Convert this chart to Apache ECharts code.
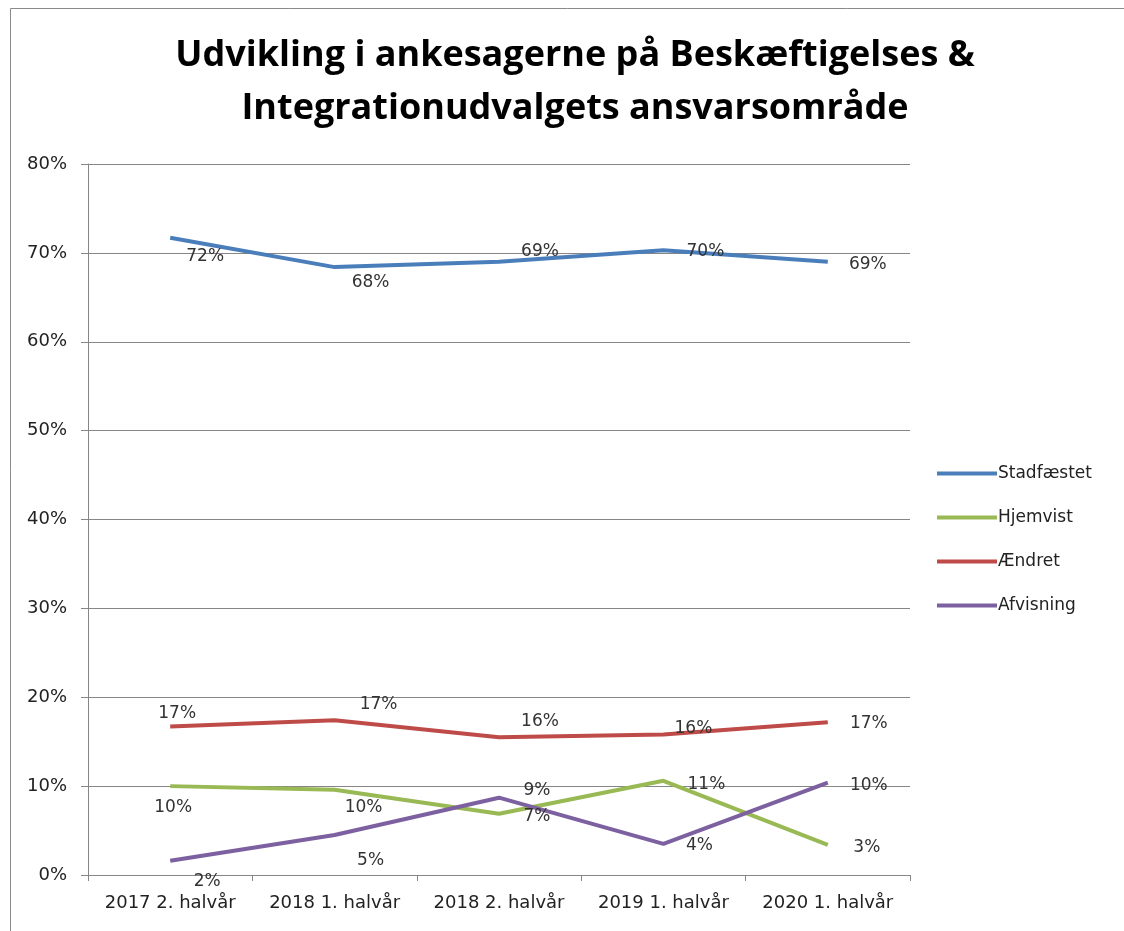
<!DOCTYPE html>
<html>
<head>
<meta charset="utf-8">
<script src="https://cdn.jsdelivr.net/npm/echarts@6/dist/echarts.min.js"></script>
<style>
  html, body { margin: 0; padding: 0; background: #fff; }
  #chart { width: 1124px; height: 931px; }
</style>
</head>
<body>
<div id="chart"></div>
<script>
// categories and values (percent)
var periods = ['2017 2. halvår', '2018 1. halvår', '2018 2. halvår', '2019 1. halvår', '2020 1. halvår'];
var stadfaestet = [71.7, 68.4, 69.0, 70.3, 69.0];
var hjemvist    = [10.0, 9.6, 6.9, 10.6, 3.4];
var aendret     = [16.7, 17.4, 15.5, 15.8, 17.2];
var afvisning   = [1.6, 4.5, 8.7, 3.5, 10.4];
var yTicks = [0, 10, 20, 30, 40, 50, 60, 70, 80];

// where Excel put each value label, relative to its point (layout only)
var labelShift = {
    'Stadfæstet': [[35, 19], [36, 15], [41, -10], [42, 1], [40, 3]],
    'Hjemvist':   [[3, 21], [29, 18], [38, 3], [43, 4], [39, 3]],
    'Ændret':     [[7, -13], [44, -16], [41, -16], [30, -6], [41, 1]],
    'Afvisning':  [[37, 21], [36, 26], [38, -7], [36, 2], [41, 3]]
};

var font = 'DejaVu Sans';

function serie(name, values, color) {
    return {
        name: name,
        type: 'line',
        data: values.map(function (v, i) {
            return {
                value: v,
                label: { position: labelShift[name][i] }
            };
        }),
        symbol: 'circle',
        symbolSize: 0,
        showSymbol: true,
        itemStyle: { color: color },
        lineStyle: { color: color, width: 4 },
        label: {
            show: true,
            align: 'center',
            verticalAlign: 'middle',
            fontFamily: font,
            fontSize: 17,
            color: '#333',
            formatter: function (p) { return Math.round(p.value) + '%'; }
        },
        labelLayout: { hideOverlap: false },
        emphasis: { disabled: true },
        z: 3
    };
}

var chart = echarts.init(document.getElementById('chart'), null, { renderer: 'canvas' });

chart.setOption({
    animation: false,
    backgroundColor: '#fff',
    title: {
        text: 'Udvikling i ankesagerne på Beskæftigelses &\nIntegrationudvalgets ansvarsområde',
        top: 24,
        left: 570,
        textAlign: 'center',
        textStyle: {
            fontFamily: 'Open Sans',
            fontWeight: 'bold',
            fontSize: 36,
            lineHeight: 53,
            color: '#000'
        }
    },
    graphic: [{
        type: 'rect',
        shape: { x: 10.5, y: 8.5, width: 1140, height: 960 },
        style: { fill: null, stroke: '#8a8a8a', lineWidth: 1 },
        silent: true
    }],
    legend: {
        orient: 'vertical',
        left: 932,
        top: 459,
        icon: 'rect',
        itemWidth: 60,
        itemHeight: 4,
        itemGap: 25,
        textStyle: { fontFamily: font, fontSize: 17, color: '#222', lineHeight: 19, padding: [0, 0, 0, -4] },
        data: ['Stadfæstet', 'Hjemvist', 'Ændret', 'Afvisning']
    },
    grid: { left: 88, right: 214, top: 164, bottom: 56 },
    xAxis: {
        type: 'category',
        data: periods,
        boundaryGap: true,
        axisLine: { lineStyle: { color: '#868686', width: 1 } },
        axisTick: { show: true, length: 6, inside: false, lineStyle: { color: '#868686' } },
        axisLabel: { interval: 0, fontFamily: font, fontSize: 18, color: '#222', margin: 19 }
    },
    yAxis: {
        type: 'value',
        min: yTicks[0],
        max: yTicks[yTicks.length - 1],
        interval: 10,
        axisLine: { show: true, lineStyle: { color: '#868686', width: 1 } },
        axisTick: { show: true, length: 7, lineStyle: { color: '#868686' } },
        axisLabel: { fontFamily: font, fontSize: 18, color: '#222', margin: 21, formatter: '{value}%' },
        splitLine: { lineStyle: { color: '#868686', width: 1 } }
    },
    series: [
        serie('Stadfæstet', stadfaestet, '#4a7ebb'),
        serie('Hjemvist', hjemvist, '#98b954'),
        serie('Ændret', aendret, '#be4b48'),
        serie('Afvisning', afvisning, '#7d60a0')
    ]
});
</script>
</body>
</html>
